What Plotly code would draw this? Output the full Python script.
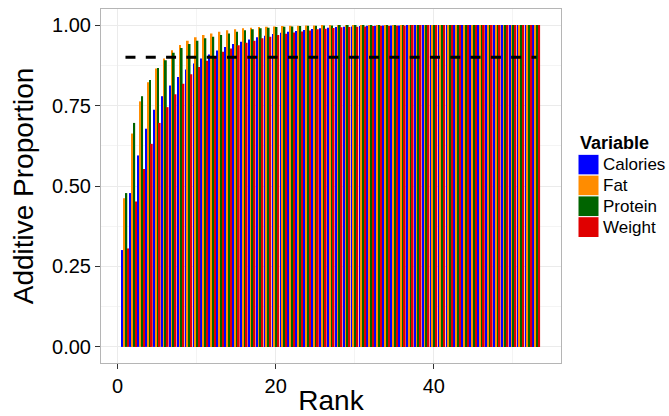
import plotly.graph_objects as go

# ---------------- data ----------------
rank = list(range(1, 54))

calories = [0.301, 0.478, 0.595, 0.678, 0.737, 0.779, 0.812, 0.839, 0.862, 0.881,
            0.896, 0.909, 0.921, 0.932, 0.941, 0.948, 0.955, 0.962, 0.967, 0.972,
            0.976, 0.979, 0.982, 0.985, 0.988, 0.990, 0.992, 0.994, 0.995, 0.996,
            0.997, 0.998, 0.998, 0.999, 0.999, 0.999, 1.0, 1.0, 1.0, 1.0,
            1.0, 1.0, 1.0, 1.0, 1.0, 1.0, 1.0, 1.0, 1.0, 1.0,
            1.0, 1.0, 1.0]

fat = [0.462, 0.663, 0.763, 0.822, 0.865, 0.896, 0.922, 0.938, 0.951, 0.962,
       0.969, 0.974, 0.979, 0.984, 0.987, 0.990, 0.992, 0.994, 0.995, 0.996,
       0.997, 0.998, 0.998, 0.999, 0.999, 1.0, 1.0, 1.0, 1.0, 1.0,
       1.0, 1.0, 1.0, 1.0, 1.0, 1.0, 1.0, 1.0, 1.0, 1.0,
       1.0, 1.0, 1.0, 1.0, 1.0, 1.0, 1.0, 1.0, 1.0, 1.0,
       1.0, 1.0, 1.0]

protein = [0.478, 0.696, 0.779, 0.829, 0.867, 0.891, 0.914, 0.929, 0.941, 0.951,
           0.959, 0.964, 0.969, 0.974, 0.979, 0.984, 0.987, 0.990, 0.992, 0.994,
           0.995, 0.996, 0.997, 0.998, 0.998, 0.999, 0.999, 1.0, 1.0, 1.0,
           1.0, 1.0, 1.0, 1.0, 1.0, 1.0, 1.0, 1.0, 1.0, 1.0,
           1.0, 1.0, 1.0, 1.0, 1.0, 1.0, 1.0, 1.0, 1.0, 1.0,
           1.0, 1.0, 1.0]

weight = [0.306, 0.452, 0.553, 0.631, 0.696, 0.745, 0.785, 0.818, 0.847, 0.870,
          0.889, 0.903, 0.917, 0.927, 0.937, 0.945, 0.951, 0.959, 0.964, 0.969,
          0.973, 0.977, 0.980, 0.983, 0.987, 0.989, 0.991, 0.993, 0.994, 0.995,
          0.996, 0.997, 0.998, 0.998, 0.999, 0.999, 1.0, 1.0, 1.0, 1.0,
          1.0, 1.0, 1.0, 1.0, 1.0, 1.0, 1.0, 1.0, 1.0, 1.0,
          1.0, 1.0, 1.0]

series_names = ["Calories", "Fat", "Protein", "Weight"]
series_values = [calories, fat, protein, weight]
series_colors = ["#0000FF", "#FF8C00", "#006400", "#E00000"]

threshold = 0.9
threshold_x = [1, 53]

x_ticks = [0, 20, 40]
x_minor = [10, 30, 50]
y_ticks = [0, 0.25, 0.5, 0.75, 1.0]
y_ticklabels = ["0.00", "0.25", "0.50", "0.75", "1.00"]
y_minor = [0.125, 0.375, 0.625, 0.875]

legend_title = "Variable"
x_title = "Rank"
y_title = "Additive Proportion"

# ---------------- figure ----------------
W, H = 669, 416
L, R, T, B = 101, 108, 9, 53
FONT = "Liberation Sans, Arial, Helvetica, sans-serif"

fig = go.Figure()
for name, vals, col in zip(series_names, series_values, series_colors):
    fig.add_trace(go.Bar(x=rank, y=vals, name=name,
                         marker=dict(color=col, line=dict(width=0)),
                         showlegend=False))

fig.add_trace(go.Scatter(x=threshold_x, y=[threshold, threshold], mode="lines",
                         line=dict(color="black", width=3, dash="10px,10.3px"),
                         showlegend=False, hoverinfo="skip"))

pw = W - L - R
ph = H - T - B


def px_x(px):
    return (px - L) / pw


def px_y(py):
    return (H - B - py) / ph


shapes = []
annotations = []
annotations.append(dict(x=px_x(578), y=px_y(142.5), xref="paper", yref="paper",
                        text="<b>" + legend_title + "</b>", showarrow=False,
                        xanchor="left", yanchor="middle",
                        font=dict(family=FONT, size=18, color="black")))
row_h = 20.8
top0 = 154.3
for i, (name, col) in enumerate(zip(series_names, series_colors)):
    y0 = top0 + i * row_h
    y1 = y0 + row_h
    shapes.append(dict(type="rect", xref="paper", yref="paper",
                       x0=px_x(578), x1=px_x(599), y0=px_y(y1), y1=px_y(y0),
                       fillcolor=col, line=dict(color="white", width=1)))
    annotations.append(dict(x=px_x(601), y=px_y((y0 + y1) / 2), xref="paper", yref="paper",
                            text=name, showarrow=False, xanchor="left", yanchor="middle",
                            font=dict(family=FONT, size=17, color="black")))

axis_common = dict(
    showline=True, mirror=True, linecolor="#B5B5B5", linewidth=1,
    ticks="outside", ticklen=5, tickwidth=1, tickcolor="#333333",
    showgrid=True, gridcolor="#EBEBEB", gridwidth=1.2,
    zeroline=False,
    tickfont=dict(family=FONT, size=20, color="black"),
)

fig.update_layout(
    width=W, height=H,
    margin=dict(l=L, r=R, t=T, b=B, autoexpand=False),
    paper_bgcolor="white", plot_bgcolor="white",
    barmode="group", bargap=0.1, bargroupgap=0,
    shapes=shapes, annotations=annotations,
    font=dict(family=FONT, color="black"),
    xaxis=dict(range=[-2.095, 56.095], tickvals=x_ticks,
               minor=dict(tickvals=x_minor, showgrid=True, gridcolor="#F4F4F4",
                          gridwidth=0.7, ticks=""),
               title=dict(text=x_title, font=dict(family=FONT, size=28, color="black"),
                          standoff=5),
               **axis_common),
    yaxis=dict(range=[-0.05, 1.05], tickvals=y_ticks, ticktext=y_ticklabels,
               minor=dict(tickvals=y_minor, showgrid=True, gridcolor="#F4F4F4",
                          gridwidth=0.7, ticks=""),
               title=dict(text=y_title, font=dict(family=FONT, size=28, color="black"),
                          standoff=10),
               **axis_common),
)

fig.write_html("out.html")
